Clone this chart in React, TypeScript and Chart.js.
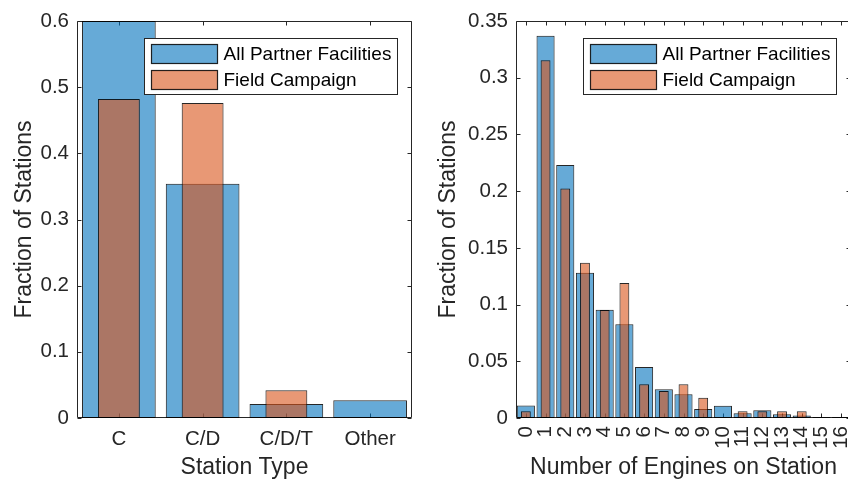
import React, { useEffect, useRef } from "react";
import { Chart, registerables } from "chart.js";

Chart.register(...registerables);

// Station type breakdown
const stationTypes = ["C", "C/D", "C/D/T", "Other"];
const typeAllPartners = [0.6, 0.354, 0.021, 0.027];
const typeFieldCampaign = [0.482, 0.476, 0.042, 0];
const typeYTicks = [0, 0.1, 0.2, 0.3, 0.4, 0.5, 0.6];

// Engines per station
const engineCounts = ["0", "1", "2", "3", "4", "5", "6", "7", "8", "9", "10", "11", "12", "13", "14", "15", "16"];
const engineAllPartners = [0.011, 0.337, 0.223, 0.128, 0.0955, 0.0826, 0.045, 0.0253, 0.0209, 0.0079, 0.0109, 0.0041, 0.0068, 0.0032, 0.0023, 0.0009, 0.0009];
const engineFieldCampaign = [0.006, 0.3155, 0.2024, 0.1369, 0.0952, 0.119, 0.0298, 0.0238, 0.0298, 0.0179, 0, 0.006, 0.006, 0.006, 0.006, 0, 0];
const engineYTicks = [0, 0.05, 0.1, 0.15, 0.2, 0.25, 0.3, 0.35];

const seriesNames = ["All Partner Facilities", "Field Campaign"];

const FONT = "'Liberation Sans', Arial, Helvetica, sans-serif";
const AXIS = "#262626";
const BLUE = "rgba(0, 114, 189, 0.6)";
const ORANGE = "rgba(217, 83, 25, 0.6)";
const EDGE = "rgba(0, 0, 0, 0.85)";
const TICK_LEN = 4;

const fmt = (v: number) => String(Number(v.toFixed(3)));

// Box outline with inward tick marks on all four sides
const framePlugin = {
  id: "frame",
  beforeDatasetsDraw(chart: any) {
    const { ctx, chartArea } = chart;
    const { left, right, top, bottom } = chartArea;
    const xs = chart.scales.x;
    const ys = chart.scales.y;
    ctx.save();
    ctx.strokeStyle = AXIS;
    ctx.lineWidth = 1;
    ctx.beginPath();
    const L = Math.round(left) + 0.5;
    const R = Math.round(right) - 0.5;
    const T = Math.round(top) + 0.5;
    const B = Math.round(bottom) - 0.5;
    ctx.moveTo(L, T);
    ctx.lineTo(R, T);
    ctx.lineTo(R, B);
    ctx.lineTo(L, B);
    ctx.closePath();
    xs.ticks.forEach((_t: any, i: number) => {
      const px = Math.round(xs.getPixelForTick(i)) + 0.5;
      ctx.moveTo(px, B);
      ctx.lineTo(px, B - TICK_LEN);
      ctx.moveTo(px, T);
      ctx.lineTo(px, T + TICK_LEN);
    });
    ys.ticks.forEach((t: any) => {
      const py = Math.round(ys.getPixelForValue(t.value)) + 0.5;
      ctx.moveTo(L, py);
      ctx.lineTo(L + TICK_LEN, py);
      ctx.moveTo(R, py);
      ctx.lineTo(R - TICK_LEN, py);
    });
    ctx.stroke();
    ctx.restore();
  },
};

// Boxed legend in the upper right of the plot area
const legendPlugin = {
  id: "boxLegend",
  afterDatasetsDraw(chart: any) {
    const { ctx, chartArea } = chart;
    const w = 253;
    const h = 56;
    const x0 = Math.round(chartArea.right - 15 - w) + 0.5;
    const y0 = Math.round(chartArea.top + 17) + 0.5;
    ctx.save();
    ctx.fillStyle = "#ffffff";
    ctx.fillRect(x0, y0, w, h);
    ctx.strokeStyle = AXIS;
    ctx.lineWidth = 1;
    ctx.strokeRect(x0, y0, w, h);
    ctx.font = `19px ${FONT}`;
    ctx.textBaseline = "middle";
    ctx.textAlign = "left";
    chart.data.datasets.forEach((ds: any, i: number) => {
      const py = y0 + 6 + i * 26;
      ctx.fillStyle = "#ffffff";
      ctx.fillRect(x0 + 7, py, 66, 19);
      ctx.fillStyle = ds.backgroundColor;
      ctx.fillRect(x0 + 7, py, 66, 19);
      ctx.strokeStyle = EDGE;
      ctx.lineWidth = 1.2;
      ctx.strokeRect(x0 + 7, py, 66, 19);
      ctx.fillStyle = "#000000";
      ctx.fillText(ds.label, x0 + 79, py + 10);
    });
    ctx.restore();
  },
};

type PanelProps = {
  left: number;
  width: number;
  labels: string[];
  allPartners: number[];
  fieldCampaign: number[];
  yTicks: number[];
  yMax: number;
  xTitle: string;
  yAxisWidth: number;
  padRight: number;
  wideBar: number;
  rotate: boolean;
};

function BarPanel(p: PanelProps) {
  const ref = useRef<HTMLCanvasElement | null>(null);

  useEffect(() => {
    if (!ref.current) return;
    const chart = new Chart(ref.current, {
      type: "bar",
      data: {
        labels: p.labels,
        datasets: [
          {
            label: seriesNames[0],
            data: p.allPartners,
            backgroundColor: BLUE,
            borderColor: EDGE,
            borderWidth: 1,
            borderSkipped: false,
            grouped: false,
            categoryPercentage: 1,
            barPercentage: p.wideBar,
            order: 1,
          },
          {
            label: seriesNames[1],
            data: p.fieldCampaign,
            backgroundColor: ORANGE,
            borderColor: EDGE,
            borderWidth: 1,
            borderSkipped: false,
            grouped: false,
            categoryPercentage: 1,
            barPercentage: 0.5,
            order: 0,
          },
        ] as any,
      },
      options: {
        animation: false,
        responsive: false,
        maintainAspectRatio: false,
        layout: { padding: { left: 0, right: p.padRight, top: 21, bottom: 0 } },
        plugins: { legend: { display: false }, tooltip: { enabled: false } },
        scales: {
          x: {
            type: "category",
            offset: true,
            grid: { display: false, drawTicks: false },
            border: { display: false },
            ticks: {
              color: AXIS,
              font: { family: FONT, size: 20.5 },
              padding: p.rotate ? 8 : 9,
              autoSkip: false,
              minRotation: p.rotate ? 90 : 0,
              maxRotation: p.rotate ? 90 : 0,
            },
            title: {
              display: true,
              text: p.xTitle,
              color: AXIS,
              font: { family: FONT, size: 23 },
              padding: { top: 0, bottom: 0 },
            },
            afterFit: (s: any) => {
              s.height = 63;
              s.paddingLeft = 0;
              s.paddingRight = 0;
            },
          },
          y: {
            type: "linear",
            min: 0,
            max: p.yMax,
            grid: { display: false, drawTicks: false },
            border: { display: false },
            afterBuildTicks: (s: any) => {
              s.ticks = p.yTicks.map((v) => ({ value: v }));
            },
            ticks: {
              color: AXIS,
              font: { family: FONT, size: 20.5 },
              padding: 8,
              callback: (v: any) => fmt(Number(v)),
            },
            title: {
              display: true,
              text: "Fraction of Stations",
              color: AXIS,
              font: { family: FONT, size: 23 },
              padding: { top: 11, bottom: 0 },
            },
            afterFit: (s: any) => {
              s.width = p.yAxisWidth;
              s.paddingTop = 0;
              s.paddingBottom = 0;
            },
          },
        },
      } as any,
      plugins: [framePlugin, legendPlugin],
    });
    return () => chart.destroy();
  }, []);

  return (
    <canvas
      ref={ref}
      width={p.width}
      height={481}
      style={{ position: "absolute", left: p.left, top: 0, width: p.width, height: 481 }}
    />
  );
}

export default function App() {
  return (
    <div
      style={{
        position: "fixed",
        left: 0,
        top: 0,
        width: 848,
        height: 481,
        overflow: "hidden",
        background: "#ffffff",
      }}
    >
      <BarPanel
        left={0}
        width={424}
        labels={stationTypes}
        allPartners={typeAllPartners}
        fieldCampaign={typeFieldCampaign}
        yTicks={typeYTicks}
        yMax={0.6}
        xTitle="Station Type"
        yAxisWidth={77}
        padRight={12}
        wideBar={0.88}
        rotate={false}
      />
      <BarPanel
        left={424}
        width={440}
        labels={engineCounts}
        allPartners={engineAllPartners}
        fieldCampaign={engineFieldCampaign}
        yTicks={engineYTicks}
        yMax={0.35}
        xTitle="Number of Engines on Station"
        yAxisWidth={92}
        padRight={13}
        wideBar={0.92}
        rotate={true}
      />
    </div>
  );
}
